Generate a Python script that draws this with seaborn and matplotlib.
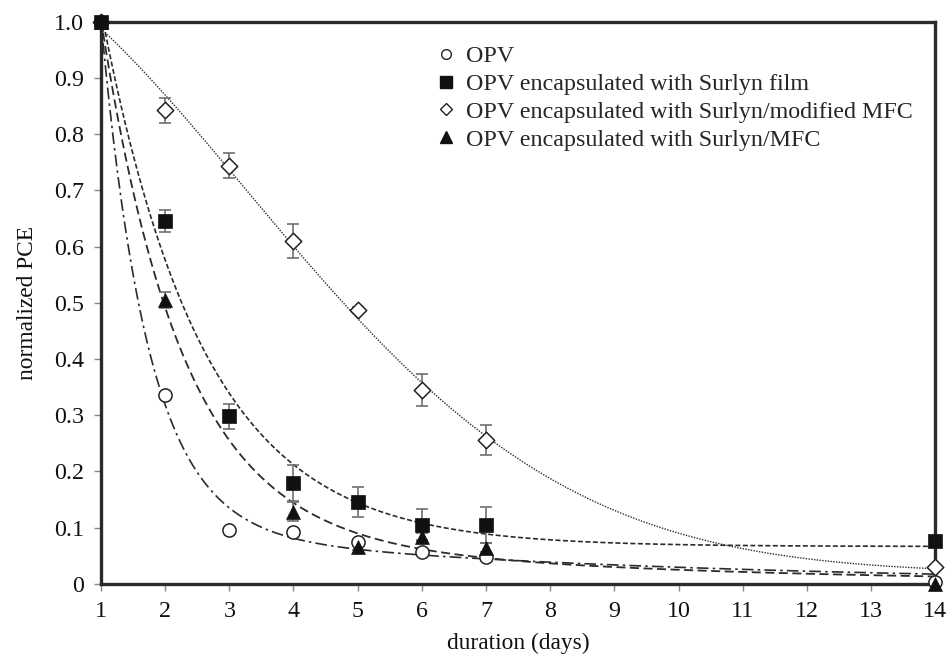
import numpy as np
import pandas as pd
import seaborn as sns
import matplotlib
matplotlib.use("Agg")
import matplotlib.pyplot as plt
from matplotlib.lines import Line2D

# ---- measured normalized PCE over time ----
days = [1, 2, 3, 4, 5, 6, 7, 14]
opv = [1.0, 0.336, 0.096, 0.092, 0.075, 0.056, 0.048, 0.003]

surlyn_film = [1.0, 0.645, 0.298, 0.179, 0.146, 0.105, 0.105, 0.077]
surlyn_film_err = [0.0, 0.020, 0.022, 0.032, 0.027, 0.028, 0.032, 0.0]

surlyn_mod_mfc = [1.0, 0.842, 0.744, 0.610, 0.487, 0.345, 0.256, 0.030]
surlyn_mod_mfc_err = [0.0, 0.022, 0.022, 0.030, 0.005, 0.028, 0.027, 0.0]

days_mfc = [1, 2, 4, 5, 6, 7, 14]
surlyn_mfc = [1.0, 0.505, 0.128, 0.066, 0.084, 0.064, 0.0]
surlyn_mfc_err = [0.0, 0.015, 0.017, 0.005, 0.006, 0.008, 0.0]

labels = ["OPV",
          "OPV encapsulated with Surlyn film",
          "OPV encapsulated with Surlyn/modified MFC",
          "OPV encapsulated with Surlyn/MFC"]

x_ticks = list(range(1, 15))
y_ticks = [0, 0.1, 0.2, 0.3, 0.4, 0.5, 0.6, 0.7, 0.8, 0.9, 1.0]
y_tick_labels = ["0", "0.1", "0.2", "0.3", "0.4", "0.5", "0.6", "0.7", "0.8", "0.9", "1.0"]


# ---- trend lines fitted to the measurements ----
def fit_biexp(x, y):
    x = np.asarray(x, float); y = np.asarray(y, float)
    best = None
    for k1 in np.linspace(0.3, 4.0, 120):
        for k2 in np.linspace(0.01, 0.6, 120):
            if k2 >= k1:
                continue
            M = np.column_stack([np.exp(-k1 * (x - 1)), np.exp(-k2 * (x - 1))])
            coef, *_ = np.linalg.lstsq(M, y, rcond=None)
            r = np.sum((M @ coef - y) ** 2)
            if best is None or r < best[0]:
                best = (r, k1, k2, coef)
    _, k1, k2, (a, b) = best
    return lambda t: a * np.exp(-k1 * (t - 1)) + b * np.exp(-k2 * (t - 1))


def fit_exp_plateau(x, y):
    x = np.asarray(x, float); y = np.asarray(y, float)
    best = None
    for k in np.linspace(0.05, 3.0, 400):
        M = np.column_stack([np.ones_like(x), np.exp(-k * (x - 1))])
        coef, *_ = np.linalg.lstsq(M, y, rcond=None)
        r = np.sum((M @ coef - y) ** 2)
        if best is None or r < best[0]:
            best = (r, k, coef)
    _, k, (c, a) = best
    return lambda t: c + a * np.exp(-k * (t - 1))


def fit_gauss_decay(x, y):
    # c + A * exp(-a (x-1) - b (x-1)^2)
    x = np.asarray(x, float); y = np.asarray(y, float)
    best = None
    for a in np.linspace(0.0, 0.4, 81):
        for b in np.linspace(0.0, 0.06, 121):
            M = np.column_stack([np.ones_like(x), np.exp(-a * (x - 1) - b * (x - 1) ** 2)])
            coef, *_ = np.linalg.lstsq(M, y, rcond=None)
            r = np.sum((M @ coef - y) ** 2)
            if best is None or r < best[0]:
                best = (r, a, b, coef)
    _, a, b, (c, amp) = best
    return lambda t: c + amp * np.exp(-a * (t - 1) - b * (t - 1) ** 2)


t = np.linspace(1, 14, 400)
fits = pd.DataFrame({
    "t": t,
    "opv": fit_biexp(days, opv)(t),
    "film": fit_exp_plateau(days, surlyn_film)(t),
    "mod": fit_gauss_decay(days, surlyn_mod_mfc)(t),
    "mfc": fit_biexp(days_mfc, surlyn_mfc)(t),
})

# ---- styling ----
sns.set_theme(style="ticks")
plt.rcParams["font.family"] = ["Liberation Serif", "DejaVu Serif"]

fig = plt.figure(figsize=(9.48, 6.56), dpi=100)
ax = fig.add_axes([0.1065, 0.110, 0.880, 0.857])

line_col = "#2b2b2b"
err_col = "#707070"
fs = 17.3
fs_lab = 16.8

sns.lineplot(data=fits, x="t", y="opv", ax=ax, color=line_col, lw=1.2,
             linestyle=(0, (7, 2.5, 1.5, 2.5)))
sns.lineplot(data=fits, x="t", y="film", ax=ax, color=line_col, lw=1.2,
             linestyle=(0, (3, 1.5)))
sns.lineplot(data=fits, x="t", y="mod", ax=ax, color=line_col, lw=1.0,
             linestyle=(0, (1, 1)))
sns.lineplot(data=fits, x="t", y="mfc", ax=ax, color=line_col, lw=1.3,
             linestyle=(0, (5, 2.5)))

# error bars
eb_kw = dict(fmt="none", ecolor=err_col, elinewidth=1.2, capsize=4, capthick=1.2, zorder=3)
ax.errorbar(days, surlyn_film, yerr=surlyn_film_err, **eb_kw)
ax.errorbar(days, surlyn_mod_mfc, yerr=surlyn_mod_mfc_err, **eb_kw)
ax.errorbar(days_mfc, surlyn_mfc, yerr=surlyn_mfc_err, **eb_kw)

# markers
sc_kw = dict(ax=ax, legend=False, zorder=4, clip_on=False)
sns.scatterplot(x=days, y=opv, marker="o", s=90, facecolor="white",
                edgecolor="#222222", linewidth=1.1, **sc_kw)
sns.scatterplot(x=days, y=surlyn_mod_mfc, marker="D", s=70, facecolor="white",
                edgecolor="#222222", linewidth=1.1, **sc_kw)
sns.scatterplot(x=days, y=surlyn_film, marker="s", s=110, color="#111111",
                edgecolor="#111111", linewidth=0.5, **sc_kw)
sns.scatterplot(x=days_mfc, y=surlyn_mfc, marker="^", s=100, color="#111111",
                edgecolor="#111111", linewidth=0.5, **sc_kw)

# axes
ax.set_xlim(1, 14)
ax.set_ylim(0, 1.0)
ax.set_xticks(x_ticks)
ax.set_xticklabels([str(v) for v in x_ticks], fontsize=fs)
ax.set_yticks(y_ticks)
ax.set_yticklabels(y_tick_labels, fontsize=fs)
ax.tick_params(axis="both", direction="out", length=5, width=1, color="#888888",
               labelcolor="#111111", pad=7)
for sp in ax.spines.values():
    sp.set_visible(True)
    sp.set_linewidth(2.4)
    sp.set_color("#2a2a2a")
ax.set_xlabel("duration (days)", fontsize=fs_lab, color="#111111", labelpad=8)
ax.set_ylabel("normalized PCE", fontsize=fs_lab, color="#111111", labelpad=12)
ax.grid(False)

handles = [
    Line2D([], [], ls="none", marker="o", ms=7, mfc="white", mec="#222222", mew=1.0),
    Line2D([], [], ls="none", marker="s", ms=8, mfc="#111111", mec="#111111"),
    Line2D([], [], ls="none", marker="D", ms=6, mfc="white", mec="#222222", mew=1.0),
    Line2D([], [], ls="none", marker="^", ms=8, mfc="#111111", mec="#111111"),
]
ax.legend(handles, labels, loc="upper left", bbox_to_anchor=(0.391, 0.975),
          frameon=False, fontsize=fs, handlelength=0.8, handletextpad=0.4,
          labelspacing=0.25, borderaxespad=0)

fig.savefig("out.png", dpi=100)
